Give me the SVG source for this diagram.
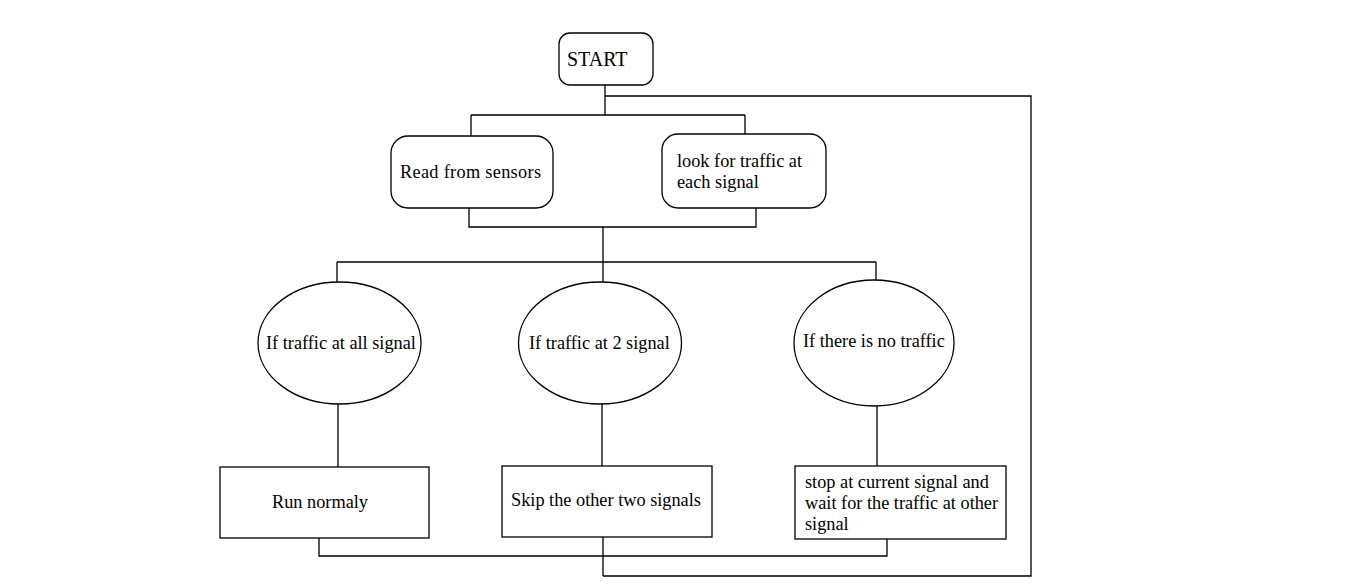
<svg xmlns="http://www.w3.org/2000/svg" width="1360" height="588" viewBox="0 0 1360 588">
<style>
.s{fill:#fff;stroke:#000;stroke-width:1.3}
.c{fill:none;stroke:#000;stroke-width:1.3}
.t{font-family:"Liberation Serif","Times New Roman",serif;font-size:18.3px;fill:#000}
</style>
<rect width="1360" height="588" fill="#fff"/>
<g id="connectors">
<path class="c" d="M605 85V115M471 115H745M471 115V136M745 115V134M605 96H1031V576H603"/>
<path class="c" d="M469 208V227H756V208M603 227V262M337 262H876M337 262V282M603 262V282M876 262V280"/>
<path class="c" d="M338 404V467M602 404V466M877 406V466"/>
<path class="c" d="M319 538V556H887V539M603 537V576"/>
</g>
<g id="start"><rect class="s" x="559" y="33" width="94" height="52" rx="11"/><text class="t" x="567" y="66" style="font-size:20px">START</text></g>
<g id="read"><rect class="s" x="391" y="136" width="162" height="72" rx="17"/><text class="t" x="400" y="178" textLength="141">Read from sensors</text></g>
<g id="look"><rect class="s" x="662" y="134" width="164" height="74" rx="16"/><text class="t" x="677" y="167">look for traffic at</text><text class="t" x="677" y="188">each signal</text></g>
<g id="cond1"><ellipse class="s" cx="339.5" cy="343" rx="81.5" ry="61"/><text class="t" x="266" y="349">If traffic at all signal</text></g>
<g id="cond2"><ellipse class="s" cx="600" cy="343" rx="81.5" ry="61"/><text class="t" x="529" y="349">If traffic at 2 signal</text></g>
<g id="cond3"><ellipse class="s" cx="874" cy="343" rx="80" ry="63"/><text class="t" x="803" y="347">If there is no traffic</text></g>
<g id="run"><rect class="s" x="220" y="467" width="209" height="71"/><text class="t" x="272" y="508">Run normaly</text></g>
<g id="skip"><rect class="s" x="502" y="466" width="210" height="71"/><text class="t" x="511" y="506">Skip the other two signals</text></g>
<g id="stop"><rect class="s" x="795" y="466" width="211" height="73"/><text class="t" x="805" y="488">stop at current signal and</text><text class="t" x="805" y="509">wait for the traffic at other</text><text class="t" x="805" y="530">signal</text></g>
</svg>
